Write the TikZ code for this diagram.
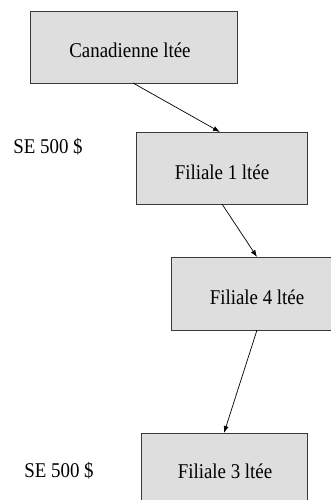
\documentclass[tikz,border=0pt]{standalone}
\usepackage{fontspec}
\setmainfont[FakeStretch=0.9]{Liberation Serif}
\usetikzlibrary{arrows.meta}
\definecolor{boxfill}{HTML}{DEDEDE}
\definecolor{boxline}{HTML}{3A3A3A}
\begin{document}
\begin{tikzpicture}[x=1pt,y=-1pt,
  entity/.style={draw=boxline,line width=0.9pt,fill=boxfill,inner sep=0pt},
  label/.style={font=\fontsize{21}{24}\selectfont,inner sep=0pt},
  link/.style={line width=0.7pt,-{Latex[length=7pt,width=5pt]}}]
\useasboundingbox (0,0) rectangle (331,500);
% companies
\draw[entity] (30,11) rectangle (237,83);
\node[label] (c0) at (130,50) {Canadienne ltée};
\draw[entity] (136,132) rectangle (307,204);
\node[label] (c1) at (222,172) {Filiale 1 ltée};
\draw[entity] (171,257) rectangle (336,330);
\node[label] (c4) at (257,297) {Filiale 4 ltée};
\draw[entity] (141,433) rectangle (307,510);
\node[label] (c3) at (225,471) {Filiale 3 ltée};
% anchor points on box edges
\coordinate (a0) at (133,83);
\coordinate (b1) at (220,132);
\coordinate (a1) at (222,204);
\coordinate (b4) at (257,257);
\coordinate (a4) at (257,330);
\coordinate (b3) at (224,433);
\draw[link] (a0) -- (b1);
\draw[link] (a1) -- (b4);
\draw[link] (a4) -- (b3);
% amounts
\node[label] (s1) at (48,147) {SE 500 \$};
\node[label] (s3) at (59,471) {SE 500 \$};
\end{tikzpicture}
\end{document}
